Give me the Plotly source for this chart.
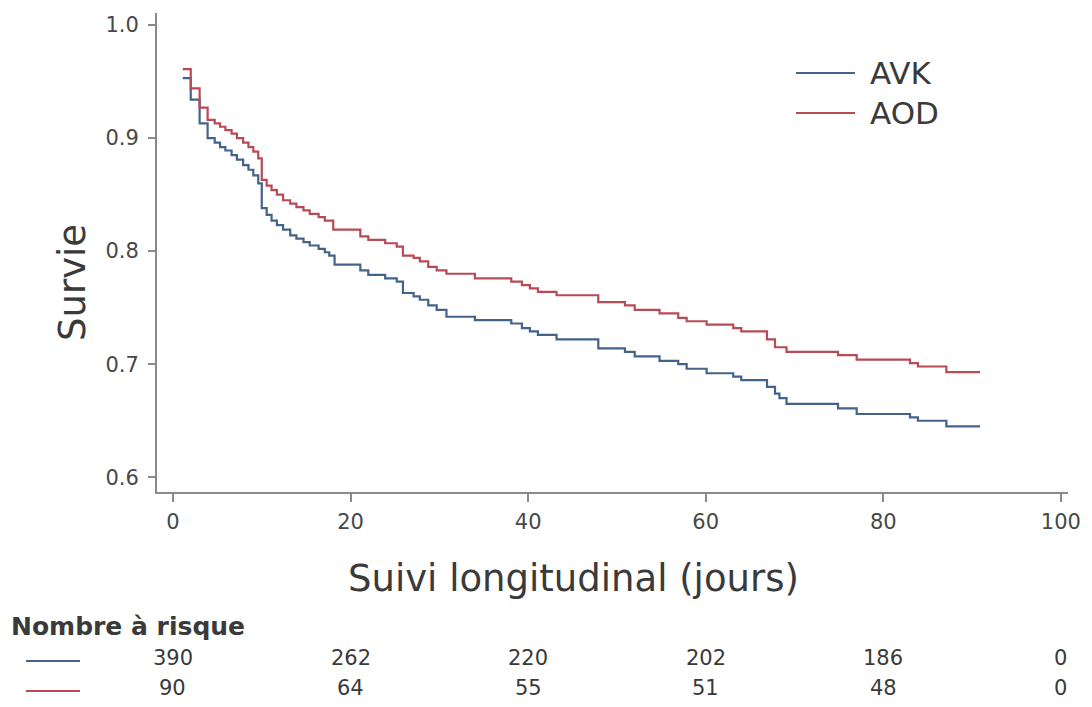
import plotly.graph_objects as go

# ---- Data ----
avk_days = [1.1, 2.0, 3.0, 3.9, 4.7, 5.3, 5.9, 6.6, 7.2, 7.9, 8.5, 9.05, 9.6, 10.0, 10.55,
            11.1, 11.7, 12.4, 13.2, 13.9, 14.7, 15.4, 16.4, 17.1, 17.6, 18.2, 21.1, 22.0,
            23.9, 25.2, 25.9, 27.1, 27.8, 28.75, 29.7, 30.8, 34.0, 38.1, 39.3, 40.2, 41.1,
            43.2, 47.9, 50.9, 52.0, 54.8, 56.9, 57.85, 60.1, 63.1, 64.0, 66.9, 67.8, 68.3,
            69.1, 74.9, 77.0, 83.0, 83.9, 87.1, 90.9]
avk_surv = [0.953, 0.934, 0.913, 0.900, 0.896, 0.892, 0.889, 0.885, 0.881, 0.876, 0.872,
            0.867, 0.860, 0.838, 0.832, 0.827, 0.823, 0.819, 0.814, 0.811, 0.808, 0.805,
            0.802, 0.799, 0.796, 0.788, 0.783, 0.779, 0.776, 0.773, 0.763, 0.760, 0.757,
            0.752, 0.748, 0.742, 0.739, 0.736, 0.732, 0.729, 0.726, 0.722, 0.714, 0.711,
            0.707, 0.703, 0.700, 0.696, 0.692, 0.689, 0.686, 0.680, 0.674, 0.670, 0.665,
            0.661, 0.656, 0.653, 0.650, 0.645, 0.645]

aod_days = [1.1, 2.0, 3.0, 3.9, 4.7, 5.3, 5.9, 6.6, 7.2, 7.9, 8.5, 9.05, 9.6, 10.0, 10.55,
            11.1, 11.7, 12.4, 13.2, 13.9, 14.7, 15.4, 16.4, 17.1, 18.05, 21.1, 22.0, 23.9,
            25.2, 25.9, 27.1, 27.8, 28.75, 29.7, 30.8, 34.0, 38.1, 39.3, 40.2, 41.1, 43.2,
            47.9, 50.9, 52.0, 54.8, 56.9, 57.85, 60.1, 63.1, 64.0, 66.9, 67.8, 69.1, 74.9,
            77.0, 83.0, 83.9, 87.1, 90.9]
aod_surv = [0.961, 0.944, 0.927, 0.916, 0.913, 0.910, 0.907, 0.904, 0.900, 0.896, 0.892,
            0.888, 0.882, 0.863, 0.858, 0.854, 0.850, 0.845, 0.842, 0.839, 0.836, 0.833,
            0.830, 0.827, 0.819, 0.813, 0.810, 0.807, 0.804, 0.796, 0.794, 0.791, 0.786,
            0.783, 0.780, 0.776, 0.773, 0.770, 0.767, 0.764, 0.761, 0.755, 0.752, 0.748,
            0.745, 0.741, 0.738, 0.735, 0.732, 0.729, 0.722, 0.715, 0.711, 0.708, 0.704,
            0.701, 0.698, 0.693, 0.693]

x_ticks = [0, 20, 40, 60, 80, 100]
y_ticks = [0.6, 0.7, 0.8, 0.9, 1.0]
risk_times = [0, 20, 40, 60, 80, 100]
risk_avk = [390, 262, 220, 202, 186, 0]
risk_aod = [90, 64, 55, 51, 48, 0]
group_names = ["AVK", "AOD"]

# ---- Styling ----
BLUE = "#44638a"
RED = "#b84a55"
TEXT = "#3a3a3a"
TICKTEXT = "#484848"
AXIS = "#8a8a8a"
FONT = "DejaVu Sans, Liberation Sans, Arial, sans-serif"

# the page body has an 8px default margin; the figure is sized to fit the window
OFF = 8
W, H = 1092 - OFF, 707 - OFF
# plot area in page pixels: x 157..1068, y 13..492
ML, MR, MT, MB = 157 - OFF, 1092 - 1068, 13 - OFF, 707 - 492
PW, PH = W - ML - MR, H - MT - MB


def px(xpage):
    return (xpage - OFF - ML) / PW


def py(ypage):
    return (H - MB - (ypage - OFF)) / PH


fig = go.Figure()
fig.add_trace(go.Scatter(x=avk_days, y=avk_surv, mode="lines", line_shape="hv",
                         line=dict(color=BLUE, width=2.2), name=group_names[0],
                         showlegend=False))
fig.add_trace(go.Scatter(x=aod_days, y=aod_surv, mode="lines", line_shape="hv",
                         line=dict(color=RED, width=2.2), name=group_names[1],
                         showlegend=False))

annotations = []
shapes = []

# Axis titles
annotations.append(dict(text="Suivi longitudinal (jours)", xref="paper", yref="paper",
                        x=px(573), y=py(578), showarrow=False,
                        font=dict(family=FONT, size=37, color=TEXT),
                        xanchor="center", yanchor="middle"))
annotations.append(dict(text="Survie", xref="paper", yref="paper",
                        x=px(73), y=py(283), showarrow=False, textangle=-90,
                        font=dict(family=FONT, size=37, color=TEXT),
                        xanchor="center", yanchor="middle"))

# Legend (top right)
leg_colors = [BLUE, RED]
leg_y = [73, 113]
for name, col, yy in zip(group_names, leg_colors, leg_y):
    shapes.append(dict(type="line", xref="paper", yref="paper",
                       x0=px(796), x1=px(855), y0=py(yy), y1=py(yy),
                       line=dict(color=col, width=2)))
    annotations.append(dict(text=name, xref="paper", yref="paper",
                            x=px(868), y=py(yy), showarrow=False,
                            font=dict(family=FONT, size=31, color=TEXT),
                            xanchor="left", yanchor="middle"))

# Number at risk table
annotations.append(dict(text="<b>Nombre à risque</b>", xref="paper", yref="paper",
                        x=px(9), y=py(626), showarrow=False,
                        font=dict(family=FONT, size=25, color=TEXT),
                        xanchor="left", yanchor="middle"))
row_y = [658, 688]
for col, yy, counts in zip(leg_colors, row_y, [risk_avk, risk_aod]):
    shapes.append(dict(type="line", xref="paper", yref="paper",
                       x0=px(26), x1=px(80), y0=py(yy + 3), y1=py(yy + 3),
                       line=dict(color=col, width=2)))
    for t, n in zip(risk_times, counts):
        annotations.append(dict(text=str(n), xref="x", yref="paper",
                                x=t, y=py(yy), showarrow=False,
                                font=dict(family=FONT, size=21, color=TEXT),
                                xanchor="center", yanchor="middle"))

fig.update_layout(
    width=W, height=H, autosize=False,
    margin=dict(l=ML, r=MR, t=MT, b=MB, pad=0),
    paper_bgcolor="white", plot_bgcolor="white",
    font=dict(family=FONT, color=TEXT),
    showlegend=False,
    annotations=annotations,
    shapes=shapes,
    xaxis=dict(range=[-1.8, 100.8], tickmode="array", tickvals=x_ticks,
               ticktext=[str(v) for v in x_ticks],
               showline=True, linecolor=AXIS, linewidth=2,
               ticks="outside", ticklen=8, tickwidth=1.5, tickcolor=AXIS,
               showgrid=False, zeroline=False, ticklabelstandoff=2,
               tickfont=dict(family=FONT, size=21, color=TICKTEXT)),
    yaxis=dict(range=[0.587, 1.0106], tickmode="array", tickvals=y_ticks,
               ticktext=["%.1f" % v for v in y_ticks],
               showline=True, linecolor=AXIS, linewidth=2,
               ticks="outside", ticklen=7, tickwidth=1.5, tickcolor=AXIS,
               showgrid=False, zeroline=False, ticklabelstandoff=5,
               tickfont=dict(family=FONT, size=21, color=TICKTEXT)),
)

fig.write_html("out.html")
